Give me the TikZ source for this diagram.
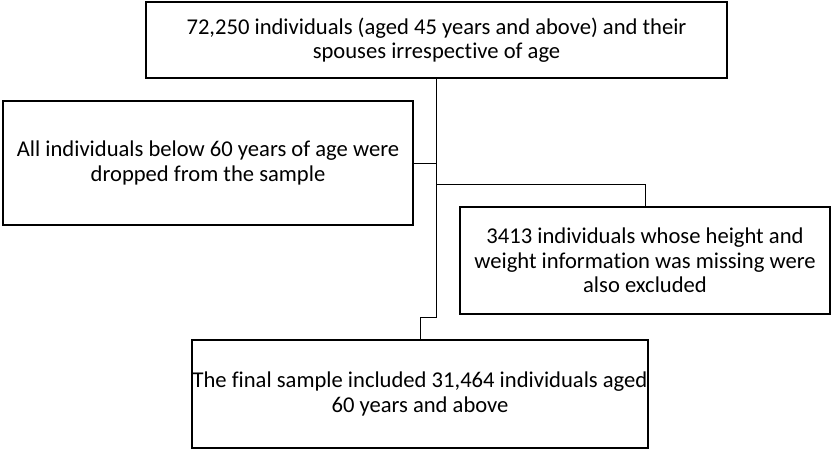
\documentclass[tikz,border=0pt]{standalone}
\usepackage{fontspec}
\setmainfont{Carlito}[Ligatures=NoCommon]
\begin{document}
\begin{tikzpicture}[x=1pt,y=-1pt,
  box/.style={draw,line width=1.4pt,inner sep=0pt,align=center,
    font=\fontsize{22.6}{24.6}\selectfont},
  link/.style={line width=1pt}]
  \useasboundingbox (0,0) rectangle (831,450);
  \node[box,minimum width=581pt,minimum height=76pt]  (total)   at (436.5,40)  {72,250 individuals (aged 45 years and above) and their\\spouses irrespective of age};
  \node[box,minimum width=410pt,minimum height=124pt] (dropped) at (208,163)   {All individuals below 60 years of age were\\dropped from the sample};
  \node[box,minimum width=370pt,minimum height=107pt] (missing) at (645,260.5) {3413 individuals whose height and\\weight information was missing were\\also excluded};
  \node[box,minimum width=456pt,minimum height=108pt] (final)   at (420,394)   {The final sample included 31,464 individuals aged\\60 years and above};

  \coordinate (split) at (436.5,184);
  \coordinate (bend)  at (436.5,317);

  \draw[link] (total.south) -- (bend) -| (final.north);
  \draw[link] (dropped.east) -- (dropped.east -| total.south);
  \draw[link] (split) -| (missing.north);
\end{tikzpicture}
\end{document}
